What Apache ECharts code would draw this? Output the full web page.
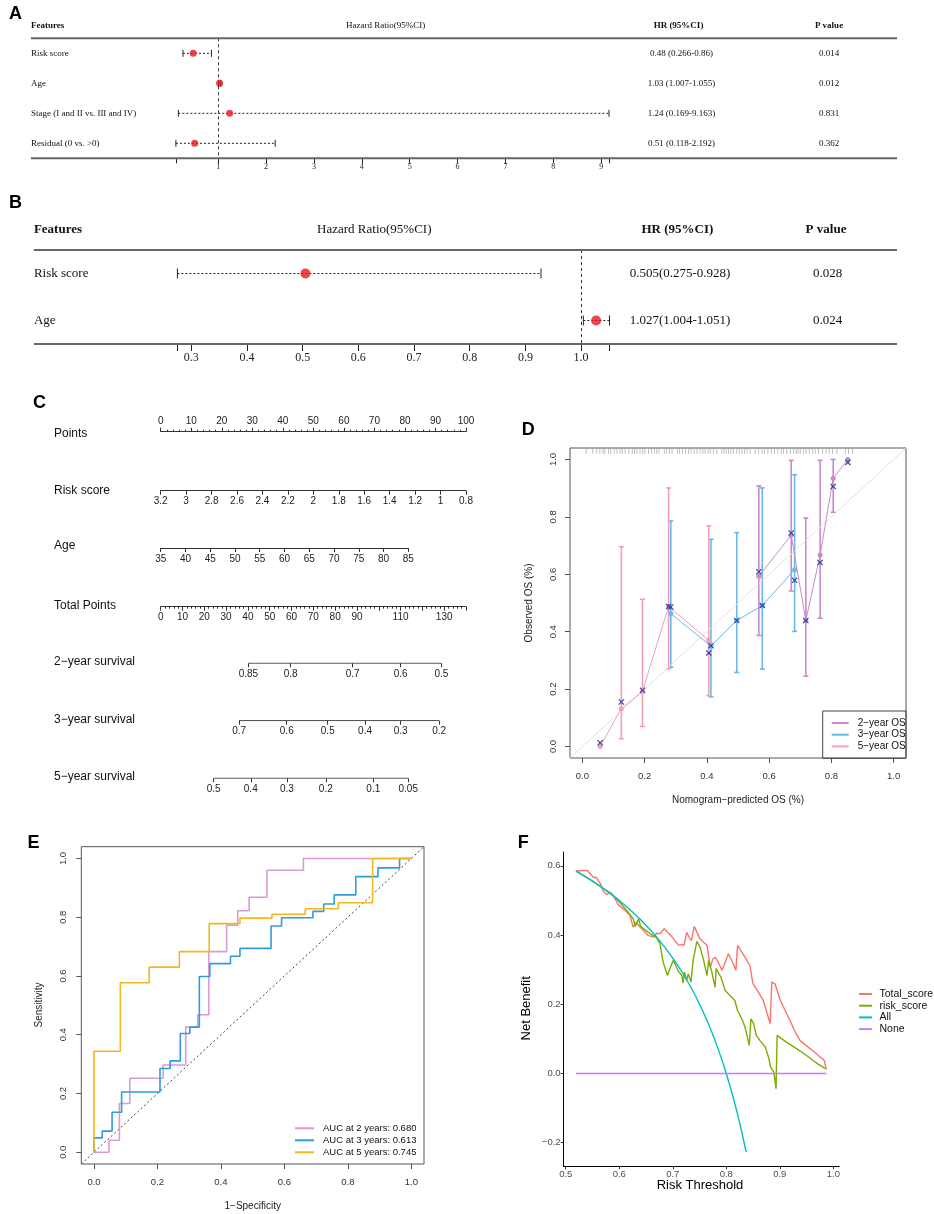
<!DOCTYPE html>
<html><head><meta charset="utf-8">
<script src="https://cdn.jsdelivr.net/npm/echarts@6/dist/echarts.min.js"></script>
<style>html,body{margin:0;padding:0;background:#fff}#c{width:934px;height:1214px}</style>
</head><body><div id="c"></div>
<script>
// ---------------- Panel A (multivariate forest) ----------------
const aFeatures = ['Risk score', 'Age', 'Stage (I and II vs. III and IV)', 'Residual (0 vs. >0)'];
const aHR   = [0.48, 1.03, 1.24, 0.51];
const aLow  = [0.266, 1.007, 0.169, 0.118];
const aHigh = [0.86, 1.055, 9.163, 2.192];
const aHRText = ['0.48 (0.266-0.86)', '1.03 (1.007-1.055)', '1.24 (0.169-9.163)', '0.51 (0.118-2.192)'];
const aP = ['0.014', '0.012', '0.831', '0.362'];
const aTicks = [1, 2, 3, 4, 5, 6, 7, 8, 9];

// ---------------- Panel B (forest) ----------------
const bFeatures = ['Risk score', 'Age'];
const bHR   = [0.505, 1.027];
const bLow  = [0.275, 1.004];
const bHigh = [0.928, 1.051];
const bHRText = ['0.505(0.275-0.928)', '1.027(1.004-1.051)'];
const bP = ['0.028', '0.024'];
const bTicks = [0.3, 0.4, 0.5, 0.6, 0.7, 0.8, 0.9, 1.0];

// ---------------- Panel C (nomogram) ----------------
const cRowNames = ['Points', 'Risk score', 'Age', 'Total Points', '2\u2212year survival', '3\u2212year survival', '5\u2212year survival'];
const pointsRange = [0, 100], pointsStep = 10;
const riskRange = [0.8, 3.2], riskStep = 0.2;
const ageRange = [35, 85], ageStep = 5;
const totalRange = [0, 140], totalStep = 10;
const totalLabels = [0, 10, 20, 30, 40, 50, 60, 70, 80, 90, 110, 130];
const surv2Labels = [0.85, 0.8, 0.7, 0.6, 0.5];
const surv2Pts    = [40.2, 59.6, 88.0, 110.0, 128.7];
const surv3Labels = [0.7, 0.6, 0.5, 0.4, 0.3, 0.2];
const surv3Pts    = [36.0, 57.8, 76.6, 93.7, 110.0, 127.7];
const surv5Labels = [0.5, 0.4, 0.3, 0.2, 0.1, 0.05];
const surv5Pts    = [24.3, 41.3, 57.9, 75.7, 97.5, 113.5];

// ---------------- Panel D (calibration) ----------------
const calTicks = [0, 0.2, 0.4, 0.6, 0.8, 1.0];
const cal2x    = [0.567, 0.671, 0.718, 0.764, 0.806, 0.853];
const cal2y    = [0.593, 0.736, 0.439, 0.667, 0.935, 1.0];
const cal2corr = [0.609, 0.744, 0.439, 0.641, 0.906, 0.990];
const cal2lo   = [0.387, 0.542, 0.245, 0.447, 0.816, null];
const cal2hi   = [0.908, 0.997, 0.796, 0.997, 1.000, null];
const cal3x    = [0.284, 0.413, 0.496, 0.578, 0.682];
const cal3y    = [0.463, 0.350, 0.439, 0.491, 0.616];
const cal3corr = [0.486, 0.351, 0.439, 0.491, 0.579];
const cal3lo   = [0.276, 0.173, 0.258, 0.270, 0.401];
const cal3hi   = [0.786, 0.722, 0.745, 0.901, 0.947];
const cal5x    = [0.057, 0.125, 0.193, 0.277, 0.406];
const cal5y    = [0.000, 0.132, 0.192, 0.488, 0.370];
const cal5corr = [0.013, 0.155, 0.196, 0.488, 0.326];
const cal5lo   = [null, 0.027, 0.070, 0.271, 0.178];
const cal5hi   = [null, 0.696, 0.513, 0.901, 0.769];
const calRug = [0.012,0.033,0.046,0.056,0.066,0.072,0.084,0.091,0.102,0.111,0.121,0.128,0.137,0.149,0.160,0.167,0.175,0.185,0.194,0.201,0.212,0.222,0.231,0.239,0.246,0.263,0.271,0.280,0.288,0.305,0.312,0.321,0.331,0.341,0.349,0.359,0.368,0.378,0.387,0.394,0.404,0.411,0.421,0.432,0.448,0.455,0.462,0.469,0.477,0.485,0.496,0.504,0.513,0.521,0.529,0.539,0.555,0.566,0.577,0.585,0.596,0.607,0.617,0.628,0.639,0.646,0.657,0.668,0.679,0.687,0.693,0.700,0.711,0.719,0.729,0.740,0.748,0.759,0.772,0.783,0.793,0.804,0.818,0.845,0.855,0.868];
const calNames = ['2\u2212year OS', '3\u2212year OS', '5\u2212year OS'];

// ---------------- Panel E (ROC) ----------------
const rocTicks = [0, 0.2, 0.4, 0.6, 0.8, 1.0];
const roc2fpr = [0, 0.047, 0.080, 0.113, 0.218, 0.289, 0.327, 0.362, 0.418, 0.453, 0.489, 0.545, 0.660, 1.0];
const roc2tpr = [0, 0.041, 0.166, 0.252, 0.297, 0.426, 0.468, 0.683, 0.773, 0.822, 0.868, 0.960, 1.0, 1.0];
const roc3fpr = [0, 0, 0.026, 0.057, 0.087, 0.208, 0.240, 0.272, 0.302, 0.332, 0.365, 0.430, 0.460, 0.558, 0.591, 0.690, 0.724, 0.757, 0.825, 0.895, 0.963, 1.0];
const roc3tpr = [0, 0.049, 0.072, 0.136, 0.205, 0.285, 0.311, 0.404, 0.426, 0.598, 0.642, 0.667, 0.694, 0.770, 0.798, 0.820, 0.845, 0.876, 0.938, 0.968, 1.0, 1.0];
const roc5fpr = [0, 0, 0.083, 0.174, 0.269, 0.363, 0.460, 0.561, 0.666, 0.770, 0.878, 1.0];
const roc5tpr = [0, 0.344, 0.577, 0.630, 0.683, 0.778, 0.797, 0.810, 0.829, 0.849, 1.0, 1.0];
const rocNames = ['AUC at 2 years: 0.680', 'AUC at 3 years: 0.613', 'AUC at 5 years: 0.745'];

// ---------------- Panel F (DCA) ----------------
const dcaXTicks = [0.5, 0.6, 0.7, 0.8, 0.9, 1.0];
const dcaYTicks = [-0.2, 0, 0.2, 0.4, 0.6];
const totalScoreX = [0.519,0.540,0.547,0.552,0.557,0.565,0.570,0.577,0.583,0.589,0.598,0.611,0.620,0.626,0.631,0.642,0.654,0.664,0.670,0.676,0.684,0.698,0.711,0.717,0.721,0.726,0.731,0.735,0.740,0.751,0.764,0.767,0.770,0.775,0.779,0.783,0.792,0.804,0.813,0.818,0.821,0.835,0.844,0.850,0.860,0.869,0.882,0.885,0.891,0.901,0.910,0.919,0.929,0.938,0.953,0.963,0.972,0.983,0.987];
const totalScoreY = [0.585,0.587,0.575,0.566,0.567,0.548,0.527,0.517,0.524,0.514,0.488,0.471,0.457,0.423,0.437,0.418,0.399,0.394,0.405,0.404,0.418,0.396,0.370,0.373,0.370,0.408,0.392,0.384,0.425,0.389,0.370,0.365,0.307,0.331,0.336,0.327,0.298,0.346,0.317,0.298,0.370,0.336,0.312,0.259,0.235,0.211,0.144,0.264,0.259,0.211,0.182,0.153,0.119,0.095,0.076,0.064,0.052,0.038,0.011];
const riskScoreX = [0.520,0.550,0.583,0.598,0.614,0.626,0.630,0.636,0.640,0.654,0.670,0.676,0.682,0.690,0.695,0.701,0.710,0.717,0.719,0.722,0.726,0.729,0.734,0.738,0.745,0.751,0.757,0.764,0.767,0.773,0.779,0.781,0.790,0.798,0.807,0.816,0.821,0.829,0.835,0.843,0.846,0.851,0.856,0.863,0.873,0.879,0.883,0.889,0.893,0.895,0.913,0.932,0.950,0.966,0.985];
const riskScoreY = [0.585,0.556,0.521,0.500,0.471,0.447,0.425,0.447,0.425,0.408,0.392,0.375,0.322,0.283,0.305,0.327,0.296,0.283,0.261,0.293,0.269,0.288,0.264,0.327,0.382,0.365,0.331,0.283,0.327,0.293,0.249,0.303,0.278,0.240,0.225,0.211,0.182,0.158,0.134,0.081,0.158,0.144,0.110,0.095,0.076,0.047,0.018,0.004,-0.044,0.110,0.090,0.071,0.052,0.033,0.014];
const allX = [0.519,0.550,0.580,0.610,0.640,0.670,0.700,0.730,0.760,0.780,0.800,0.820,0.837];
const allY = [0.585,0.556,0.524,0.487,0.444,0.394,0.333,0.260,0.167,0.091,0.000,-0.111,-0.227];
const noneX = [0.519, 0.987];
const noneY = [0, 0];
const dcaNames = ['Total_score', 'risk_score', 'All', 'None'];

// =====================================================================
const SANS = 'Liberation Sans', SERIF = 'Liberation Serif';
const grids = [], xAxes = [], yAxes = [], series = [], graphics = [], legends = [];
const zip = (a, b) => a.map((v, i) => [v, b[i]]);

function txt(x, y, text, o) {
  o = o || {};
  graphics.push({type: 'text', x: x, y: y, rotation: o.rot || 0, silent: true, z: 100,
    style: {text: text, fontFamily: o.family || SANS, fontSize: o.size || 12, fontWeight: o.weight || 'normal',
      fill: o.color || '#111', align: o.align || 'left', verticalAlign: 'middle'}});
}
function hline(x1, x2, y, w, c) {
  graphics.push({type: 'line', silent: true, z: 50, shape: {x1: x1, y1: y, x2: x2, y2: y}, style: {stroke: c || '#555', lineWidth: w || 1}});
}

// ---------- forest panels ----------
function ciRender(cap) {
  return function (params, api) {
    const yi = api.value(2);
    const p1 = api.coord([api.value(0), yi]);
    const p2 = api.coord([api.value(1), yi]);
    const st = {stroke: '#222', lineWidth: 1};
    return {type: 'group', children: [
      {type: 'line', shape: {x1: p1[0], y1: p1[1], x2: p2[0], y2: p2[1]}, style: {stroke: '#222', lineWidth: 1, lineDash: [2, 2]}},
      {type: 'line', shape: {x1: p1[0], y1: p1[1] - cap, x2: p1[0], y2: p1[1] + cap}, style: st},
      {type: 'line', shape: {x1: p2[0], y1: p2[1] - cap, x2: p2[0], y2: p2[1] + cap}, style: st}
    ]};
  };
}
function forest(c) {
  const gi = grids.length;
  grids.push({left: c.left, top: c.top, width: c.width, height: c.height});
  const xi = xAxes.length;
  const lo = Math.min.apply(null, c.low), hi = Math.max.apply(null, c.high);
  xAxes.push({type: 'value', gridIndex: gi, min: lo, max: hi, axisLine: {show: false, onZero: false}, splitLine: {show: false},
    axisTick: {show: true, length: c.tickLen, customValues: [lo].concat(c.ticks, [hi]), lineStyle: {color: '#222', width: 1}},
    axisLabel: {customValues: c.ticks, formatter: c.fmt, fontFamily: SERIF, fontSize: c.tickFont, color: '#222', margin: c.tickMargin}});
  const yi = yAxes.length;
  const common = {type: 'category', gridIndex: gi, inverse: true, axisLine: {show: false}, axisTick: {show: false}, splitLine: {show: false}};
  yAxes.push(Object.assign({}, common, {data: c.features,
    axisLabel: {align: 'left', margin: c.featMargin, fontFamily: SERIF, fontSize: c.font, color: '#111'}}));
  yAxes.push(Object.assign({}, common, {position: 'right', data: c.hrText,
    axisLabel: {align: 'center', margin: c.hrMargin, fontFamily: SERIF, fontSize: c.font, color: '#111'}}));
  yAxes.push(Object.assign({}, common, {position: 'right', data: c.p,
    axisLabel: {align: 'center', margin: c.pMargin, fontFamily: SERIF, fontSize: c.font, color: '#111'}}));
  series.push({type: 'custom', xAxisIndex: xi, yAxisIndex: yi, silent: true, renderItem: ciRender(c.cap),
    encode: {x: [0, 1], y: 2}, data: c.low.map((l, i) => [l, c.high[i], i])});
  series.push({type: 'scatter', xAxisIndex: xi, yAxisIndex: yi, silent: true, z: 5, symbolSize: c.dot,
    itemStyle: {color: '#E5171E'}, data: c.hr.map((h, i) => [h, i]),
    markLine: {silent: true, symbol: 'none', label: {show: false}, lineStyle: {type: [3, 3], color: '#333', width: 1}, data: [{xAxis: 1}]}});
}

// Panel A
forest({left: 175.9, top: 38.3, width: 433.1, height: 120, features: aFeatures, hr: aHR, low: aLow, high: aHigh,
  hrText: aHRText, p: aP, ticks: aTicks, fmt: v => String(v), tickLen: 5, tickFont: 8, tickMargin: 5,
  font: 9, featMargin: 145, hrMargin: 72.5, pMargin: 220, cap: 3.5, dot: 7});
txt(9, 14, 'A', {size: 18, weight: 'bold', color: '#000'});
txt(31, 26, 'Features', {family: SERIF, size: 9, weight: 'bold'});
txt(385.6, 26, 'Hazard Ratio(95%CI)', {family: SERIF, size: 9, align: 'center'});
txt(678.5, 26, 'HR (95%CI)', {family: SERIF, size: 9, weight: 'bold', align: 'center'});
txt(829, 26, 'P value', {family: SERIF, size: 9, weight: 'bold', align: 'center'});
hline(31, 897, 38.3, 2, '#666');
hline(31, 897, 158.3, 2, '#666');

// Panel B
forest({left: 177.4, top: 250, width: 432.1, height: 94, features: bFeatures, hr: bHR, low: bLow, high: bHigh,
  hrText: bHRText, p: bP, ticks: bTicks, fmt: v => v.toFixed(1), tickLen: 7, tickFont: 12, tickMargin: 8,
  font: 13, featMargin: 143.5, hrMargin: 70.5, pMargin: 218, cap: 5, dot: 10});
txt(9, 203, 'B', {size: 18, weight: 'bold', color: '#000'});
txt(33.9, 229.3, 'Features', {family: SERIF, size: 13, weight: 'bold'});
txt(374.3, 229.3, 'Hazard Ratio(95%CI)', {family: SERIF, size: 13, align: 'center'});
txt(677.4, 229.3, 'HR (95%CI)', {family: SERIF, size: 13, weight: 'bold', align: 'center'});
txt(826, 229.3, 'P value', {family: SERIF, size: 13, weight: 'bold', align: 'center'});
hline(33.9, 897, 250, 2, '#666');
hline(33.9, 897, 344, 2, '#666');

// ---------- Panel C nomogram ----------
txt(33, 403, 'C', {size: 18, weight: 'bold', color: '#000'});
const cRowY = [433.3, 490.7, 546, 605.7, 662, 719.3, 776.7];
cRowNames.forEach((n, i) => txt(54, cRowY[i], n, {size: 12, color: '#111'}));
const NL = 160.7, NW = 305.3;
const axLabel = {fontFamily: SANS, fontSize: 10, color: '#222'};
function nomoAxis(lineY, left, width, xa, surv) {
  const gi = grids.length;
  const top = xa.position === 'top' ? lineY : lineY - 10;
  grids.push({left: left, top: top, width: width, height: 10});
  xAxes.push(Object.assign({type: 'value', gridIndex: gi, splitLine: {show: false},
    axisLine: {show: !surv, onZero: false, lineStyle: {color: '#333', width: 1}}}, xa));
  yAxes.push({type: 'value', gridIndex: gi, show: false, min: 0, max: 1});
  if (surv) {
    series.push({type: 'line', xAxisIndex: xAxes.length - 1, yAxisIndex: yAxes.length - 1, silent: true, symbol: 'none',
      lineStyle: {color: '#333', width: 1}, data: [[surv[0], 0], [surv[surv.length - 1], 0]]});
  }
}
// Points
nomoAxis(431.7, NL, NW, {position: 'top', min: pointsRange[0], max: pointsRange[1], interval: pointsStep,
  axisTick: {length: 4, lineStyle: {color: '#333'}}, minorTick: {show: true, splitNumber: 5, length: 2, lineStyle: {color: '#333'}},
  axisLabel: Object.assign({margin: 5}, axLabel)});
// Risk score
nomoAxis(490.7, NL, NW, {min: riskRange[0], max: riskRange[1], interval: riskStep, inverse: true,
  axisTick: {length: 4, lineStyle: {color: '#333'}}, axisLabel: Object.assign({margin: 6}, axLabel)});
// Age
nomoAxis(548, NL, 247.6, {min: ageRange[0], max: ageRange[1], interval: ageStep,
  axisTick: {length: 4, lineStyle: {color: '#333'}}, axisLabel: Object.assign({margin: 6}, axLabel)});
// Total points
nomoAxis(606.7, NL, NW, {min: totalRange[0], max: totalRange[1], interval: totalStep,
  axisTick: {length: 4, lineStyle: {color: '#333'}}, minorTick: {show: true, splitNumber: 5, length: 2, lineStyle: {color: '#333'}},
  axisLabel: Object.assign({margin: 6, customValues: totalLabels}, axLabel)});
// survival scales
[[663.3, surv2Pts, surv2Labels], [720.7, surv3Pts, surv3Labels], [778.3, surv5Pts, surv5Labels]].forEach(r => {
  const pts = r[1], labs = r[2];
  nomoAxis(r[0], NL, NW, {min: totalRange[0], max: totalRange[1],
    axisTick: {length: 4, customValues: pts, lineStyle: {color: '#333'}},
    axisLabel: Object.assign({margin: 6, customValues: pts, formatter: v => String(labs[pts.indexOf(v)])}, axLabel)}, pts);
});

// ---------- Panel D calibration ----------
txt(521.7, 430, 'D', {size: 18, weight: 'bold', color: '#000'});
const gD = grids.length;
grids.push({left: 570, top: 448, width: 336, height: 310, show: true, borderColor: '#555', borderWidth: 1, backgroundColor: 'transparent'});
const xD = xAxes.length, yD = yAxes.length;
const calAx = (rot, mg) => ({min: -0.04, max: 1.04, splitLine: {show: false}, axisLine: {show: false, onZero: false},
  axisTick: {length: 5, customValues: calTicks, lineStyle: {color: '#555'}},
  axisLabel: {customValues: calTicks, formatter: v => v.toFixed(1), fontFamily: SANS, fontSize: 9.5, color: '#333', margin: mg, rotate: rot}});
xAxes.push(Object.assign({type: 'value', gridIndex: gD}, calAx(0, 13)));
yAxes.push(Object.assign({type: 'value', gridIndex: gD}, calAx(90, 12)));
txt(529.3, 603, 'Observed OS (%)', {size: 10, align: 'center', rot: Math.PI / 2, color: '#222'});
txt(738, 800, 'Nomogram\u2212predicted OS (%)', {size: 10, align: 'center', color: '#222'});
series.push({type: 'line', xAxisIndex: xD, yAxisIndex: yD, silent: true, symbol: 'none', lineStyle: {color: '#E2E2E2', width: 1},
  data: [[-0.04, -0.04], [1.04, 1.04]]});
series.push({type: 'scatter', xAxisIndex: xD, yAxisIndex: yD, silent: true, symbol: 'rect', symbolSize: [0.8, 5],
  itemStyle: {color: '#9A9A9A'}, data: calRug.map(v => [v, 1.029])});
const calCol = ['#C98BC6', '#6CB8E6', '#F3A0B4'];
const calSets = [[cal2x, cal2y, cal2corr, cal2lo, cal2hi], [cal3x, cal3y, cal3corr, cal3lo, cal3hi], [cal5x, cal5y, cal5corr, cal5lo, cal5hi]];
calSets.forEach((s, k) => {
  const col = calCol[k];
  series.push({type: 'custom', name: 'err' + k, xAxisIndex: xD, yAxisIndex: yD, silent: true, encode: {x: 0, y: [1, 2]},
    data: s[0].map((x, i) => [x, s[3][i], s[4][i]]).filter(d => d[1] !== null),
    renderItem: (params, api) => {
      const a = api.coord([api.value(0), api.value(1)]), b = api.coord([api.value(0), api.value(2)]);
      const st = {stroke: col, lineWidth: 1.6};
      return {type: 'group', children: [
        {type: 'line', shape: {x1: a[0], y1: a[1], x2: b[0], y2: b[1]}, style: st},
        {type: 'line', shape: {x1: a[0] - 2.5, y1: a[1], x2: a[0] + 2.5, y2: a[1]}, style: st},
        {type: 'line', shape: {x1: b[0] - 2.5, y1: b[1], x2: b[0] + 2.5, y2: b[1]}, style: st}]};
    }});
});
calSets.forEach((s, k) => {
  series.push({type: 'line', name: calNames[k], xAxisIndex: xD, yAxisIndex: yD, silent: true, symbol: 'circle', symbolSize: 5,
    color: calCol[k], lineStyle: {color: calCol[k], width: 1}, itemStyle: {color: calCol[k]}, data: zip(s[0], s[1]), z: 3});
});
calSets.forEach((s, k) => {
  series.push({type: 'custom', name: 'corr' + k, xAxisIndex: xD, yAxisIndex: yD, silent: true, z: 4, encode: {x: 0, y: 1},
    data: zip(s[0], s[2]),
    renderItem: (params, api) => {
      const p = api.coord([api.value(0), api.value(1)]), d = 2.6;
      const st = {stroke: '#3346A6', lineWidth: 1.2};
      return {type: 'group', children: [
        {type: 'line', shape: {x1: p[0] - d, y1: p[1] - d, x2: p[0] + d, y2: p[1] + d}, style: st},
        {type: 'line', shape: {x1: p[0] - d, y1: p[1] + d, x2: p[0] + d, y2: p[1] - d}, style: st}]};
    }});
});
graphics.push({type: 'rect', silent: true, z: 40, shape: {x: 822.7, y: 711, width: 83.3, height: 47.3}, style: {fill: 'transparent', stroke: '#444', lineWidth: 1}});
legends.push({data: calNames, orient: 'vertical', left: 831.7, top: 718, padding: 0, itemGap: 1.7, itemWidth: 17, itemHeight: 2,
  icon: 'rect', textStyle: {fontFamily: SANS, fontSize: 10, color: '#111', lineHeight: 10, padding: [0, 0, 0, 4]}, selectedMode: false});

// ---------- Panel E ROC ----------
txt(27.5, 843, 'E', {size: 18, weight: 'bold', color: '#000'});
const gE = grids.length;
grids.push({left: 81.3, top: 846.7, width: 342.7, height: 317.3, show: true, borderColor: '#555', borderWidth: 1, backgroundColor: 'transparent'});
const xE = xAxes.length, yE = yAxes.length;
const rocAx = (rot, mg) => ({min: -0.04, max: 1.04, splitLine: {show: false}, axisLine: {show: false, onZero: false},
  axisTick: {length: 5, customValues: rocTicks, lineStyle: {color: '#555'}},
  axisLabel: {customValues: rocTicks, formatter: v => v.toFixed(1), fontFamily: SANS, fontSize: 9.5, color: '#333', margin: mg, rotate: rot}});
xAxes.push(Object.assign({type: 'value', gridIndex: gE}, rocAx(0, 13)));
yAxes.push(Object.assign({type: 'value', gridIndex: gE}, rocAx(90, 13)));
txt(39, 1005, 'Sensitivity', {size: 10, align: 'center', rot: Math.PI / 2, color: '#222'});
txt(252.7, 1206.7, '1\u2212Specificity', {size: 10, align: 'center', color: '#222'});
series.push({type: 'line', xAxisIndex: xE, yAxisIndex: yE, silent: true, symbol: 'none',
  lineStyle: {color: '#444', width: 1, type: [2, 2.5]}, data: [[-0.04, -0.04], [1.04, 1.04]]});
const rocCol = ['#D99BD6', '#2E9CDE', '#F4B81C'];
[[roc2fpr, roc2tpr], [roc3fpr, roc3tpr], [roc5fpr, roc5tpr]].forEach((r, k) => {
  series.push({type: 'line', name: rocNames[k], xAxisIndex: xE, yAxisIndex: yE, silent: true, symbol: 'none', step: 'end',
    color: rocCol[k], lineStyle: {color: rocCol[k], width: 1.6}, itemStyle: {color: rocCol[k]}, data: zip(r[0], r[1])});
});
legends.push({data: rocNames, orient: 'vertical', left: 295, top: 1123.3, padding: 0, itemGap: 2, itemWidth: 19, itemHeight: 2,
  icon: 'rect', textStyle: {fontFamily: SANS, fontSize: 9.5, color: '#111', lineHeight: 10, padding: [0, 0, 0, 4]}, selectedMode: false});

// ---------- Panel F DCA ----------
txt(517.7, 842.7, 'F', {size: 18, weight: 'bold', color: '#000'});
const gF = grids.length;
grids.push({left: 563.6, top: 852, width: 275.6, height: 314.2});
const xF = xAxes.length, yF = yAxes.length;
xAxes.push({type: 'value', gridIndex: gF, min: 0.496, max: 1.011, splitLine: {show: false},
  axisLine: {show: true, onZero: false, lineStyle: {color: '#000', width: 1}},
  axisTick: {length: 3, customValues: dcaXTicks, lineStyle: {color: '#333'}},
  axisLabel: {customValues: dcaXTicks, formatter: v => v.toFixed(1), fontFamily: SANS, fontSize: 9.5, color: '#4D4D4D', margin: 3}});
yAxes.push({type: 'value', gridIndex: gF, min: -0.268, max: 0.64, splitLine: {show: false},
  axisLine: {show: true, onZero: false, lineStyle: {color: '#000', width: 1}},
  axisTick: {length: 3, customValues: dcaYTicks, lineStyle: {color: '#333'}},
  axisLabel: {customValues: dcaYTicks, formatter: v => v.toFixed(1).replace('-', '\u2212'), fontFamily: SANS, fontSize: 9.5, color: '#4D4D4D', margin: 3}});
txt(526.7, 1008.3, 'Net Benefit', {size: 13, align: 'center', rot: Math.PI / 2, color: '#000'});
txt(700, 1185, 'Risk Threshold', {size: 13, align: 'center', color: '#000'});
const dcaCol = ['#F8766D', '#7CAE00', '#00BFC4', '#C77CFF'];
[[totalScoreX, totalScoreY, false], [riskScoreX, riskScoreY, false], [allX, allY, true], [noneX, noneY, false]].forEach((d, k) => {
  series.push({type: 'line', name: dcaNames[k], xAxisIndex: xF, yAxisIndex: yF, silent: true, symbol: 'none', smooth: d[2],
    color: dcaCol[k], lineStyle: {color: dcaCol[k], width: 1.4}, itemStyle: {color: dcaCol[k]}, data: zip(d[0], d[1])});
});
legends.push({data: dcaNames, orient: 'vertical', left: 859, top: 988.5, padding: 0, itemGap: 0.7, itemWidth: 13, itemHeight: 2,
  icon: 'rect', textStyle: {fontFamily: SANS, fontSize: 10.5, color: '#111', lineHeight: 11, padding: [0, 0, 0, 2.5]}, selectedMode: false});

const chart = echarts.init(document.getElementById('c'), null, {renderer: 'canvas'});
chart.setOption({animation: false, backgroundColor: '#fff', grid: grids, xAxis: xAxes, yAxis: yAxes, series: series,
  legend: legends, graphic: graphics, tooltip: {show: false}});
</script></body></html>
